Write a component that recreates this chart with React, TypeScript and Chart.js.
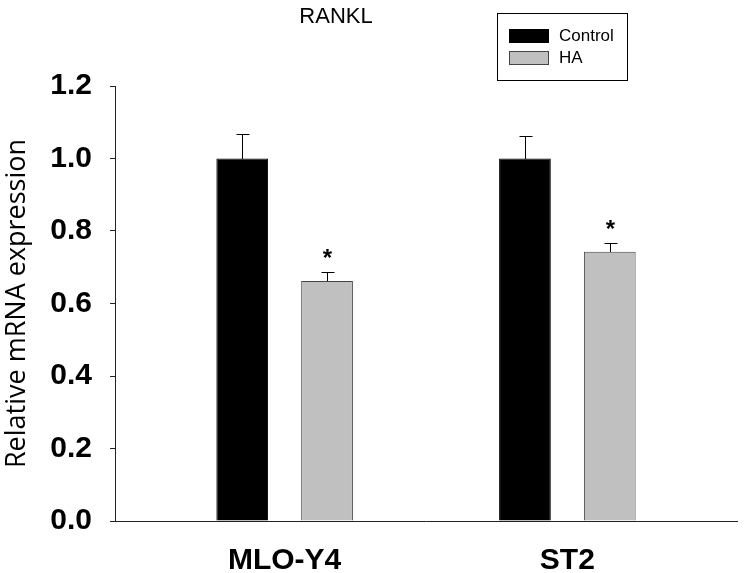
import { useEffect, useRef } from 'react';
import { Chart, registerables } from 'chart.js';

Chart.register(...registerables);

const chartTitle = 'RANKL';
const yAxisTitle = 'Relative mRNA expression';
const categories = ['MLO-Y4', 'ST2'];
const seriesNames = ['Control', 'HA'];
const controlValues = [1.0, 1.0];
const controlErrors = [0.067, 0.063];
const haValues = [0.662, 0.743];
const haErrors = [0.026, 0.024];
const haMarks = ['*', '*'];
const yTicks = [0, 0.2, 0.4, 0.6, 0.8, 1.0, 1.2];

const errorsByDataset = [controlErrors, haErrors];
const marksByDataset = [null, haMarks];

const errorBarPlugin = {
  id: 'errorBars',
  afterDatasetsDraw(chart: any) {
    const ctx = chart.ctx;
    const yScale = chart.scales.y;
    chart.data.datasets.forEach((ds: any, di: number) => {
      const meta = chart.getDatasetMeta(di);
      const errs = errorsByDataset[di];
      const marks = marksByDataset[di];
      meta.data.forEach((el: any, i: number) => {
        const v = ds.data[i].y;
        const top = yScale.getPixelForValue(v + errs[i]);
        const base = yScale.getPixelForValue(v);
        const x = Math.round(el.x) + 0.5;
        const yt = Math.round(top) + 0.5;
        ctx.save();
        ctx.strokeStyle = '#000';
        ctx.lineWidth = 1;
        ctx.beginPath();
        ctx.moveTo(x, Math.round(base));
        ctx.lineTo(x, yt);
        ctx.moveTo(x - 6, yt);
        ctx.lineTo(x + 7, yt);
        ctx.stroke();
        if (marks && marks[i]) {
          ctx.fillStyle = '#000';
          ctx.font = 'bold 24px "Liberation Sans", Arial, sans-serif';
          ctx.textAlign = 'center';
          ctx.textBaseline = 'alphabetic';
          ctx.fillText(marks[i], x, top - 6);
        }
        ctx.restore();
      });
    });
  },
};

const titleLegendPlugin = {
  id: 'titleLegend',
  afterDraw(chart: any) {
    const ctx = chart.ctx;
    ctx.save();
    ctx.fillStyle = '#000';
    ctx.font = '22px "Liberation Sans", Arial, sans-serif';
    ctx.textAlign = 'center';
    ctx.textBaseline = 'alphabetic';
    ctx.fillText(chartTitle, 336, 23);

    ctx.strokeStyle = '#000';
    ctx.lineWidth = 1;
    ctx.strokeRect(497.5, 13.5, 130, 67);
    chart.data.datasets.forEach((ds: any, i: number) => {
      const y = 29 + i * 22;
      ctx.fillStyle = ds.backgroundColor;
      ctx.fillRect(509, y, 40, 14);
      ctx.strokeStyle = ds.borderColor;
      ctx.strokeRect(509.5, y + 0.5, 39, 13);
      ctx.fillStyle = '#000';
      ctx.font = '17px "Liberation Sans", Arial, sans-serif';
      ctx.textAlign = 'left';
      ctx.textBaseline = 'middle';
      ctx.fillText(ds.label, 559, y + 7.5);
    });
    ctx.restore();
  },
};

export default function App() {
  const ref = useRef<HTMLCanvasElement | null>(null);

  useEffect(() => {
    document.body.style.margin = '0';
    if (!ref.current) return;
    const chart = new Chart(ref.current, {
      type: 'bar',
      data: {
        datasets: [
          {
            label: seriesNames[0],
            data: controlValues.map((v, i) => ({ x: i, y: v })),
            backgroundColor: '#000000',
            borderColor: '#000000',
            borderWidth: 1,
            categoryPercentage: 0.6,
            barPercentage: 0.61,
          },
          {
            label: seriesNames[1],
            data: haValues.map((v, i) => ({ x: i, y: v })),
            backgroundColor: '#c0c0c0',
            borderColor: '#444444',
            borderWidth: 1,
            categoryPercentage: 0.6,
            barPercentage: 0.61,
          },
        ],
      } as any,
      options: {
        animation: false,
        responsive: false,
        devicePixelRatio: 1,
        layout: { padding: { top: 86, right: 7, bottom: 0, left: 0 } },
        plugins: {
          legend: { display: false },
          title: { display: false },
          tooltip: { enabled: false },
        },
        scales: {
          x: {
            type: 'linear',
            offset: false,
            min: -0.6,
            max: 1.6,
            afterBuildTicks: (scale: any) => {
              scale.ticks = categories.map((_, i) => ({ value: i }));
            },
            afterFit: (scale: any) => {
              scale.height = 52;
            },
            grid: { display: false, drawTicks: false, offset: false },
            border: { display: true, color: '#222', width: 1 },
            ticks: {
              autoSkip: false,
              maxRotation: 0,
              padding: 22,
              color: '#000',
              font: { family: '"Liberation Sans", Arial, sans-serif', size: 30, weight: 'bold' },
              callback: (v: any) => categories[v] ?? '',
            },
          },
          y: {
            type: 'linear',
            min: 0,
            max: 1.2,
            afterBuildTicks: (scale: any) => {
              scale.ticks = yTicks.map((v) => ({ value: v }));
            },
            afterFit: (scale: any) => {
              scale.width = 115;
            },
            grid: { drawOnChartArea: false, drawTicks: true, tickLength: 5, color: '#222' },
            border: { display: true, color: '#222', width: 1 },
            ticks: {
              padding: 18,
              color: '#000',
              font: { family: '"Liberation Sans", Arial, sans-serif', size: 30, weight: 'bold' },
              callback: (v: any) => Number(v).toFixed(1),
            },
            title: {
              display: true,
              text: yAxisTitle,
              color: '#000',
              padding: { top: 1, bottom: 0 },
              font: { family: '"Open Sans", sans-serif', size: 27, lineHeight: 1.2 },
            },
          },
        },
      } as any,
      plugins: [errorBarPlugin, titleLegendPlugin],
    });
    return () => chart.destroy();
  }, []);

  return <canvas ref={ref} width={744} height={573} style={{ display: 'block' }} />;
}
